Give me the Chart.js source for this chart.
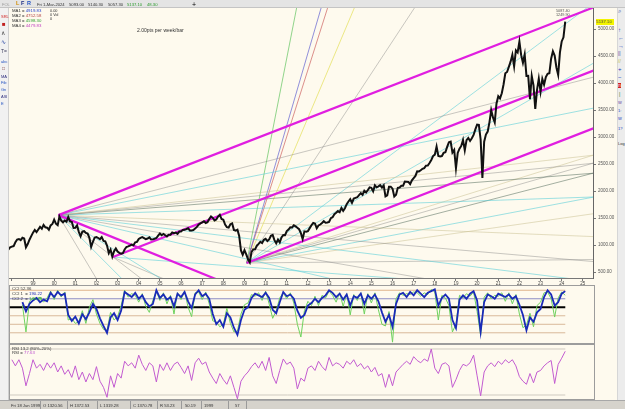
<!DOCTYPE html>
<html>
<head>
<meta charset="utf-8">
<title>S&amp;P 500 weekly</title>
<script src="https://cdn.jsdelivr.net/npm/chart.js@4.4.1/dist/chart.umd.min.js"></script>
<style>
  body { margin: 0; width: 625px; height: 409px; overflow: hidden; position: relative; background: #e9e9e9; font-family: 'Liberation Sans', Arial, sans-serif; }
  .abs { position: absolute; }
  .t { position: absolute; font-size: 5px; line-height: 5px; white-space: nowrap; color: #333; }
  .s { font-size: 4.2px; }
  #fondo { left: 9px; top: 8px; width: 608px; height: 392px; background: #fefaee; }
  #barraTop { left: 0; top: 0; width: 625px; height: 8px; background: #e4e4e4; border-bottom: 1px solid #c4c4c4; box-sizing: border-box; }
  #barraIzq { left: 0; top: 8px; width: 9px; height: 392px; background: #f1f1f1; border-right: 1px solid #d0d0d0; box-sizing: border-box; }
  #barraDer { left: 617px; top: 8px; width: 8px; height: 392px; background: #ececec; border-left: 1px solid #d6d6d6; box-sizing: border-box; }
  #estado { left: 0; top: 400px; width: 625px; height: 9px; background: #d6d3cc; border-top: 1px solid #a8a8a8; box-sizing: border-box; }
  .caja { position: absolute; border: 1px solid #9c9c9c; box-sizing: border-box; }
  .sep { position: absolute; top: 401px; width: 1px; height: 8px; background: #9a9a9a; }
  canvas { position: absolute; left: 0; }
</style>
</head>
<body>
<div id="fondo" class="abs"></div>
<div class="caja" style="left:9px;top:285px;width:586px;height:59px;"></div>
<div class="caja" style="left:9px;top:344px;width:586px;height:56px;"></div>

<canvas id="principal" width="625" height="286" style="top:0;"></canvas>
<canvas id="cci" width="625" height="57" style="top:286px;"></canvas>
<canvas id="rsi" width="625" height="54" style="top:345px;"></canvas>

<div id="barraTop" class="abs"></div>
<div id="barraIzq" class="abs"></div>
<div id="barraDer" class="abs"></div>
<div id="estado" class="abs"></div>

<!-- TOP BAR -->
<div class="t" style="left:2px;top:1.5px;color:#999;font-size:4px;">FOL</div>
<div class="t" style="left:16px;top:1px;font-size:5.5px;font-weight:bold;color:#d08a00;">L</div>
<div class="t" style="left:21px;top:1px;font-size:5.5px;font-weight:bold;color:#1c2c80;">F</div>
<div class="t" style="left:27px;top:1px;font-size:5.5px;font-weight:bold;color:#2050c0;">R</div>
<div class="t s" style="left:37px;top:2px;">Fri 1-Mar-2024</div>
<div class="t s" style="left:69px;top:2px;">5093.00</div>
<div class="t s" style="left:88px;top:2px;">5140.30</div>
<div class="t s" style="left:108px;top:2px;">5057.30</div>
<div class="t s" style="left:127px;top:2px;color:#2a9a2a;">5137.10</div>
<div class="t s" style="left:147px;top:2px;color:#2a9a2a;">48.30</div>
<div class="t" style="left:192px;top:0.5px;font-size:7px;line-height:7px;color:#000;">+</div>

<!-- LEGENDS MAIN -->
<div class="t" style="left:12px;top:8px;font-size:4.3px;">MA1 = <span style="color:#2040d0;">4919.83</span></div>
<div class="t" style="left:12px;top:13px;font-size:4.3px;">MA2 = <span style="color:#b04040;">4752.58</span></div>
<div class="t" style="left:12px;top:18px;font-size:4.3px;">MA3 = <span style="color:#30a030;">4598.30</span></div>
<div class="t" style="left:12px;top:23px;font-size:4.3px;">MA4 = <span style="color:#c040c0;">4479.83</span></div>
<div class="t" style="left:50px;top:8.5px;font-size:3.8px;line-height:4px;">0.00<br>0 Vol<br>0</div>
<div class="t" style="left:137px;top:28px;">2.00pts per week/bar</div>
<div class="t" style="left:556px;top:8.5px;font-size:3.8px;line-height:4px;color:#555;">5087.40<br>1249.90</div>
<div class="t" style="left:596px;top:19px;width:18px;height:6px;background:#f4f400;font-size:4.3px;line-height:6px;color:#444;">5137.10</div>

<!-- LEGENDS PANELS -->
<div class="t" style="left:12px;top:285.5px;font-size:4.3px;">CCI 52.36</div>
<div class="t" style="left:12px;top:290.5px;font-size:4.3px;">CCI 1 &nbsp;= <span style="color:#1a2ab8;">190.22</span></div>
<div class="t" style="left:12px;top:295.5px;font-size:4.3px;">CCI 2 &nbsp;= <span style="color:#3aa83a;">140.98</span></div>
<div class="t" style="left:12px;top:345.5px;font-size:4.3px;">RSI 13,2 (80%-20%)</div>
<div class="t" style="left:12px;top:350px;font-size:4.3px;">RSI = <span style="color:#c050d0;">77.63</span></div>

<!-- LEFT TOOLBAR -->
<div class="t" style="left:1px;top:14px;font-size:4px;color:#d02020;">SRL</div>
<div class="t" style="left:2px;top:22px;font-size:6px;color:#c02020;">&#9632;</div>
<div class="t" style="left:1px;top:31px;font-size:6px;color:#404040;">&#8743;</div>
<div class="t" style="left:1px;top:40px;font-size:6px;color:#2040a0;">&#8767;</div>
<div class="t" style="left:1px;top:49px;font-size:5px;color:#404060;">T=</div>
<div class="t" style="left:1px;top:59px;font-size:4px;color:#2050c0;">abc</div>
<div class="t" style="left:2px;top:66px;font-size:5px;color:#804040;">&#9633;</div>
<div class="t" style="left:1px;top:74px;font-size:4px;color:#303080;">MA</div>
<div class="t" style="left:1px;top:80px;font-size:4px;color:#2050c0;">Fib</div>
<div class="t" style="left:1px;top:87px;font-size:4px;color:#2050c0;">Gn</div>
<div class="t" style="left:1px;top:94px;font-size:4px;color:#303080;">ASI</div>
<div class="t" style="left:1px;top:101px;font-size:4px;color:#2050c0;">E</div>

<!-- RIGHT TOOLBAR -->
<div class="t" style="left:618px;top:9px;font-size:6px;color:#2040a0;">&#8981;</div>
<div class="t" style="left:618px;top:28px;font-size:6px;color:#2040c0;">&#8593;</div>
<div class="t" style="left:618px;top:36px;font-size:6px;color:#2040c0;">&#8592;</div>
<div class="t" style="left:618px;top:44px;font-size:6px;color:#2040c0;">&#8594;</div>
<div class="t" style="left:618px;top:51px;font-size:5px;color:#4040a0;">||</div>
<div class="t" style="left:618px;top:59px;font-size:5px;color:#c0c040;">//</div>
<div class="t" style="left:618px;top:67px;font-size:6px;color:#2040c0;">+</div>
<div class="t" style="left:618px;top:75px;font-size:6px;color:#2040c0;">&#8722;</div>
<div class="t" style="left:618px;top:83px;font-size:5px;color:#fff;background:#d02020;">n</div>
<div class="t" style="left:619px;top:92px;font-size:5px;color:#208020;">|</div>
<div class="t" style="left:618px;top:100px;font-size:4px;color:#6040a0;">W</div>
<div class="t" style="left:618px;top:108px;font-size:4px;color:#2040c0;">1:</div>
<div class="t" style="left:618px;top:116px;font-size:4px;color:#2040c0;">W</div>
<div class="t" style="left:618px;top:126px;font-size:4px;color:#2040c0;">1?</div>
<div class="t" style="left:618px;top:141px;font-size:4px;color:#333;">Log</div>

<!-- STATUS BAR -->
<div class="t s" style="left:11px;top:403px;">Fri 18 Jun 1999</div>
<div class="sep" style="left:40px;"></div>
<div class="t s" style="left:43px;top:403px;">O 1320.56</div>
<div class="sep" style="left:67px;"></div>
<div class="t s" style="left:70px;top:403px;">H 1372.53</div>
<div class="sep" style="left:97px;"></div>
<div class="t s" style="left:100px;top:403px;">L 1319.28</div>
<div class="sep" style="left:130px;"></div>
<div class="t s" style="left:133px;top:403px;">C 1370.78</div>
<div class="sep" style="left:157px;"></div>
<div class="t s" style="left:160px;top:403px;">R 53.23</div>
<div class="sep" style="left:181px;"></div>
<div class="t s" style="left:185px;top:403px;">50.19</div>
<div class="sep" style="left:201px;"></div>
<div class="t s" style="left:204px;top:403px;">1999</div>
<div class="sep" style="left:228px;"></div>
<div class="t s" style="left:235px;top:403px;">57</div>
<div class="sep" style="left:246px;"></div>

<script>
// DATA: S&P 500, one value per month, first one end of Oct 1997
var priceStart = 1997 + 10 / 12;
var closes = [
    914.6, 955.4, 970.4,
    980.3, 1049.3, 1101.8, 1111.8, 1090.8, 1133.8, 1120.7, 957.3, 1017.0, 1098.7, 1163.6, 1229.2,
    1279.6, 1238.3, 1286.4, 1335.2, 1301.8, 1372.7, 1328.7, 1320.4, 1282.7, 1362.9, 1388.9, 1469.3,
    1394.5, 1366.4, 1527.0, 1452.4, 1420.6, 1454.6, 1430.8, 1517.7, 1436.5, 1429.4, 1315.2, 1320.3,
    1366.0, 1239.9, 1160.3, 1249.5, 1255.8, 1224.4, 1211.2, 1133.6, 965.8, 1059.8, 1139.5, 1148.1,
    1130.2, 1106.7, 1147.4, 1076.9, 1067.1, 989.8, 850.0, 916.1, 785.0, 885.8, 936.3, 879.8,
    855.7, 841.2, 848.2, 916.9, 963.6, 974.5, 990.3, 1008.0, 996.0, 1050.7, 1058.2, 1111.9,
    1131.1, 1144.9, 1126.2, 1107.3, 1120.7, 1140.8, 1101.7, 1104.2, 1114.6, 1130.2, 1173.8, 1211.9,
    1181.3, 1203.6, 1180.6, 1156.9, 1191.5, 1191.3, 1234.2, 1220.3, 1228.8, 1207.0, 1249.5, 1248.3,
    1280.1, 1280.7, 1294.9, 1310.6, 1270.1, 1270.2, 1276.7, 1303.8, 1335.9, 1377.9, 1400.6, 1418.3,
    1438.2, 1406.8, 1420.9, 1482.4, 1530.6, 1503.4, 1455.3, 1474.0, 1526.8, 1560.0, 1481.1, 1468.4,
    1378.6, 1330.6, 1322.7, 1385.6, 1400.4, 1280.0, 1267.4, 1282.8, 1166.4, 900.0, 820.0, 903.3,
    825.9, 735.1, 680.0, 872.8, 919.1, 919.3, 987.5, 1020.6, 1057.1, 1036.2, 1095.6, 1115.1,
    1073.9, 1104.5, 1169.4, 1186.7, 1089.4, 1030.7, 1101.6, 1049.3, 1141.2, 1183.3, 1180.6, 1257.6,
    1286.1, 1327.2, 1325.8, 1363.6, 1345.2, 1320.6, 1292.3, 1218.9, 1110.0, 1253.3, 1247.0, 1257.6,
    1312.4, 1365.7, 1408.5, 1397.9, 1310.3, 1362.2, 1379.3, 1406.6, 1440.7, 1412.2, 1416.2, 1426.2,
    1498.1, 1514.7, 1569.2, 1597.6, 1630.7, 1606.3, 1685.7, 1633.0, 1681.6, 1756.5, 1805.8, 1848.4,
    1782.6, 1859.5, 1872.3, 1883.9, 1923.6, 1960.2, 1930.7, 2003.4, 1972.3, 2018.1, 2067.6, 2058.9,
    1995.0, 2104.5, 2067.9, 2085.5, 2107.4, 2063.1, 2103.8, 1900.0, 1920.0, 2079.4, 2080.4, 2043.9,
    1900.0, 1932.2, 2059.7, 2065.3, 2096.9, 2098.9, 2173.6, 2170.9, 2168.3, 2126.2, 2199.0, 2238.8,
    2278.9, 2363.6, 2362.7, 2384.2, 2411.8, 2423.4, 2470.3, 2471.7, 2519.4, 2575.3, 2647.6, 2673.6,
    2823.8, 2650.0, 2640.9, 2648.1, 2705.3, 2718.4, 2816.3, 2901.5, 2914.0, 2711.7, 2760.2, 2420.0,
    2704.1, 2784.5, 2834.4, 2945.8, 2752.1, 2941.8, 2980.4, 2926.5, 2976.7, 3037.6, 3141.0, 3230.8,
    3225.5, 2954.2, 2240.0, 2912.4, 3044.3, 3100.3, 3271.1, 3500.3, 3363.0, 3270.0, 3621.6, 3756.1,
    3714.2, 3811.2, 3972.9, 4181.2, 4204.1, 4297.5, 4395.3, 4522.7, 4307.5, 4605.4, 4567.0, 4766.2,
    4515.6, 4373.9, 4530.4, 4131.9, 4132.2, 3700.0, 4130.3, 3955.0, 3520.0, 3872.0, 4080.1, 3839.5,
    4076.6, 3970.2, 4109.3, 4169.5, 4179.8, 4450.4, 4589.0, 4507.7, 4288.1, 4150.0, 4567.8, 4769.8,
    4845.7, 5137.1
];

var yearTicks = [1998, 1999, 2000, 2001, 2002, 2003, 2004, 2005, 2006, 2007, 2008, 2009, 2010, 2011,
    2012, 2013, 2014, 2015, 2016, 2017, 2018, 2019, 2020, 2021, 2022, 2023, 2024, 2025];
var priceTicks = [500, 1000, 1500, 2000, 2500, 3000, 3500, 4000, 4500, 5000];

// PIVOTS: 2000 top, 2002 low, 2009 low
var pivotYear = [2000.2, 2002.78, 2009.1];
var pivotValue = [1553, 777, 667];

// CHANNEL LINES (thick)
var channelPivot = [0, 1, 2, 0];
var channelEndYear = [2026, 2026, 2026, 2009];
var channelEndValue = [5475, 4306, 3236, 154];

// FAN LINES (thin)
var fanPivot = [0, 0, 0, 0, 0, 0, 0, 0, 0, 0, 0, 0, 0, 0, 0,
    1, 1,
    2, 2, 2, 2, 2, 2, 2, 2, 2, 2, 2, 2, 2];
var fanEndYear = [2026, 2026, 2026, 2026, 2026, 2026, 2026, 2026, 2026, 2026, 2026, 2006, 2005.5, 2004, 2002.5,
    2026, 2007,
    2011.57, 2012.78, 2013.1, 2014.42, 2017.39, 2025.9, 2026, 2026, 2026, 2026, 2026, 2026, 2026];
var fanEndValue = [4159, 3574, 2685, 2533, 2345, 1896, 1148, 676, 299, -196, -802, 144, -37, 63, 49,
    94, 68,
    5600, 5600, 5600, 5600, 5600, 5600, 4480, 2725, 2573, 2382, 1607, 1924, 733];

// CCI (two periods), one value every 2 months from mid 1998
var cciStart = 1998.5;
var cciSlow = [
    60, -50, 40, 80, 110, 60, 90, 70, 170, 120,
    180, 140, 160, -90, -160, -110, -190, -80, -140, -60,
    40, -20, -130, -220, -300, -120, -70, -150, -40, 180,
    150, 120, 170, 100, 140, 60, 10, 40, 200, 110,
    150, 90, 120, 10, 160, 120, 180, 70, -10, 150,
    200, 130, 160, 100, -80, -200, -150, -230, -70, -120,
    -240, -325, -150, -30, 0, 110, 160, 140, 120, 170,
    110, -30, -70, 60, 180, 130, 150, 100, -40, -125,
    -90, 20, 50, 100, 60, 110, 140, 200, 170, 120,
    160, 90, 150, 20, 130, 110, 160, 40, 140, 100,
    150, 70, -60, -170, -90, -230, 40, 150, 170, 120,
    180, 140, 200, 160, 120, 170, 190, 210, 20, 110,
    150, 100, -150, -245, 90, 140, 100, 160, 190, 80,
    -290, 60, 150, 130, 100, 160, 140, 120, 150, 100,
    130, 30, -90, -270, -120, -170, -60, -20, 120, 200,
    150, 20, 60, 160, 190
];
var cciFast = [
    30, -290, 70, 110, 90, 120, 60, 110, 190, 90,
    200, 120, 180, -150, -130, -190, -170, -40, -190, 0,
    90, -80, -190, -260, -270, -60, -150, -110, 20, 200,
    120, 160, 140, 60, 160, 10, -60, 80, 190, 80,
    170, 40, 140, -80, 170, 90, 190, 0, -110, 170,
    180, 90, 180, 40, -160, -170, -230, -200, -10, -190,
    -290, -280, -80, 30, 50, 150, 130, 170, 80, 190,
    40, -130, -40, 110, 170, 100, 170, 50, -200, -350,
    -40, 70, 20, 130, 20, 140, 110, 190, 140, 60,
    170, 10, 160, -90, 150, 80, 170, -80, 160, 50,
    170, -30, -200, -220, -50, -410, 100, 170, 140, 160,
    150, 180, 170, 130, 170, 150, 210, 180, -150, 140,
    110, 20, -290, -200, 140, 110, 160, 130, 180, -50,
    -330, 120, 170, 100, 140, 130, 170, 70, 170, 40,
    150, -80, -240, -210, -70, -230, 20, 60, 170, 180,
    100, -115, 110, 180, 141
];
var cciLevels = [200, 100, 0, -100, -200, -300];

// RSI 13, one value every 2 months from 1998
var rsiStart = 1998.0;
var rsiValues = [
    66, 58, 66, 55, 32, 48, 66, 55, 60, 52,
    62, 55, 62, 50, 58, 47, 53, 43, 58, 40,
    50, 37, 48, 40, 57, 38, 30, 17, 45, 30,
    48, 42, 64, 58, 62, 55, 72, 60, 52, 62,
    58, 37, 60, 52, 62, 52, 60, 63, 56, 48,
    58, 39, 62, 68, 60, 63, 50, 42, 35, 48,
    40, 34, 45, 30, 15, 38, 45, 50, 57, 62,
    55, 64, 52, 69, 45, 35, 52, 67, 60, 63,
    55, 28, 42, 38, 55, 58, 52, 64, 57, 52,
    69, 58, 62, 60, 55, 64, 60, 66, 57, 61,
    54, 58, 50, 56, 45, 48, 30, 47, 32, 50,
    55, 60, 64, 60, 70, 65, 62, 67, 64, 80,
    55, 48, 60, 62, 58, 30, 40, 52, 60, 58,
    62, 72, 45, 19, 50, 58, 62, 57, 64, 60,
    66, 62, 66, 58, 44, 38, 34, 48, 36, 50,
    52, 58, 62, 65, 35, 60, 68, 77
];
var rsiLevels = [80, 20];

// STYLES
Chart.defaults.font.family = "'Liberation Sans', Arial, sans-serif";
var xMin = 1997.865;
var xMax = 2025.48;
var colores = {
    gray: 'rgba(125,125,125,0.6)',
    dark: 'rgba(70,95,80,0.7)',
    cyan: 'rgba(80,205,215,0.8)',
    tan: 'rgba(205,195,150,0.8)',
    green: 'rgba(80,190,80,0.9)',
    blue: 'rgba(80,80,205,0.9)',
    red: 'rgba(200,80,80,0.9)',
    yellow: 'rgba(225,220,70,0.9)'
};
var fanStyle = ['gray', 'cyan', 'tan', 'gray', 'dark', 'cyan', 'tan', 'gray', 'cyan', 'gray', 'cyan', 'cyan', 'gray', 'cyan', 'gray',
    'cyan', 'gray',
    'green', 'blue', 'red', 'yellow', 'gray', 'cyan', 'cyan', 'tan', 'gray', 'dark', 'tan', 'cyan', 'gray'];
var cciLevelColor = ['#e0b48c', '#8d8dc4', '#000000', '#d9b99a', '#d9b99a', '#d9b99a'];
var cciLevelWidth = [1, 1, 1.8, 1, 1, 1];

function serie(start, step, values) {
    var out = [];
    for (var i = 0; i < values.length; i++) {
        out.push({ x: start + i * step, y: values[i] });
    }
    return out;
}

function segmento(x1, y1, x2, y2, color, ancho) {
    return {
        data: [{ x: x1, y: y1 }, { x: x2, y: y2 }],
        borderColor: color,
        borderWidth: ancho,
        pointRadius: 0,
        tension: 0,
        fill: false
    };
}

function opcionesBase() {
    return {
        responsive: false,
        animation: false,
        devicePixelRatio: 1,
        events: [],
        plugins: { legend: { display: false }, tooltip: { enabled: false } }
    };
}

// MAIN CHART
var mainSets = [];
mainSets.push({
    data: serie(priceStart, 1 / 12, closes),
    borderColor: '#111111',
    borderWidth: 2,
    pointRadius: 0,
    tension: 0
});
for (var c = 0; c < channelPivot.length; c++) {
    var p = channelPivot[c];
    mainSets.push(segmento(pivotYear[p], pivotValue[p], channelEndYear[c], channelEndValue[c], '#e01ee0', 2.2));
}
for (var f = 0; f < fanPivot.length; f++) {
    var q = fanPivot[f];
    mainSets.push(segmento(pivotYear[q], pivotValue[q], fanEndYear[f], fanEndValue[f], colores[fanStyle[f]], 0.7));
}

var opMain = opcionesBase();
opMain.layout = { padding: { left: 9, top: 8, right: 0, bottom: 0 } };
opMain.scales = {
    x: {
        type: 'linear', min: xMin, max: xMax, position: 'bottom',
        afterBuildTicks: function (s) { s.ticks = yearTicks.map(function (v) { return { value: v }; }); },
        afterFit: function (s) { s.height = 8; },
        grid: { drawOnChartArea: false, drawTicks: true, tickLength: 3, color: '#777' },
        border: { display: true, color: '#777' },
        ticks: {
            autoSkip: false, maxRotation: 0, padding: 0, color: '#444', font: { size: 4.5 },
            callback: function (v) { return v < 1999 ? '' : String(v % 100).padStart(2, '0'); }
        }
    },
    y: {
        type: 'linear', position: 'right', min: 389, max: 5389,
        afterBuildTicks: function (s) { s.ticks = priceTicks.map(function (v) { return { value: v }; }); },
        afterFit: function (s) { s.width = 32; },
        grid: { drawOnChartArea: false, drawTicks: true, tickLength: 3, color: '#777' },
        border: { display: true, color: '#666' },
        ticks: {
            autoSkip: false, padding: 2, color: '#555', font: { size: 4.5 },
            callback: function (v) { return v.toFixed(2); }
        }
    }
};
new Chart(document.getElementById('principal'), { type: 'line', data: { datasets: mainSets }, options: opMain });

// CCI PANEL
var cciSets = [];
cciSets.push({ data: serie(cciStart, 1 / 6, cciSlow), borderColor: '#1a2ab8', borderWidth: 1.8, pointRadius: 0, tension: 0 });
cciSets.push({ data: serie(cciStart, 1 / 6, cciFast), borderColor: '#6fd25e', borderWidth: 1, pointRadius: 0, tension: 0 });
for (var k = 0; k < cciLevels.length; k++) {
    cciSets.push(segmento(1997.9, cciLevels[k], 2024.17, cciLevels[k], cciLevelColor[k], cciLevelWidth[k]));
}
var opCci = opcionesBase();
opCci.layout = { padding: { left: 9, right: 32, top: 0, bottom: 0 } };
opCci.scales = {
    x: { type: 'linear', min: xMin, max: xMax, display: false },
    y: { type: 'linear', min: -420, max: 250, display: false }
};
new Chart(document.getElementById('cci'), { type: 'line', data: { datasets: cciSets }, options: opCci });

// RSI PANEL
var rsiSets = [];
rsiSets.push({ data: serie(rsiStart, 1 / 6, rsiValues), borderColor: '#c25bd0', borderWidth: 1, pointRadius: 0, tension: 0 });
for (var r = 0; r < rsiLevels.length; r++) {
    rsiSets.push(segmento(1997.9, rsiLevels[r], 2024.17, rsiLevels[r], '#cfcac0', 1));
}
var opRsi = opcionesBase();
opRsi.layout = { padding: { left: 9, right: 32, top: 0, bottom: 0 } };
opRsi.scales = {
    x: { type: 'linear', min: xMin, max: xMax, display: false },
    y: { type: 'linear', min: 14.8, max: 85.2, display: false }
};
new Chart(document.getElementById('rsi'), { type: 'line', data: { datasets: rsiSets }, options: opRsi });
</script>
</body>
</html>
